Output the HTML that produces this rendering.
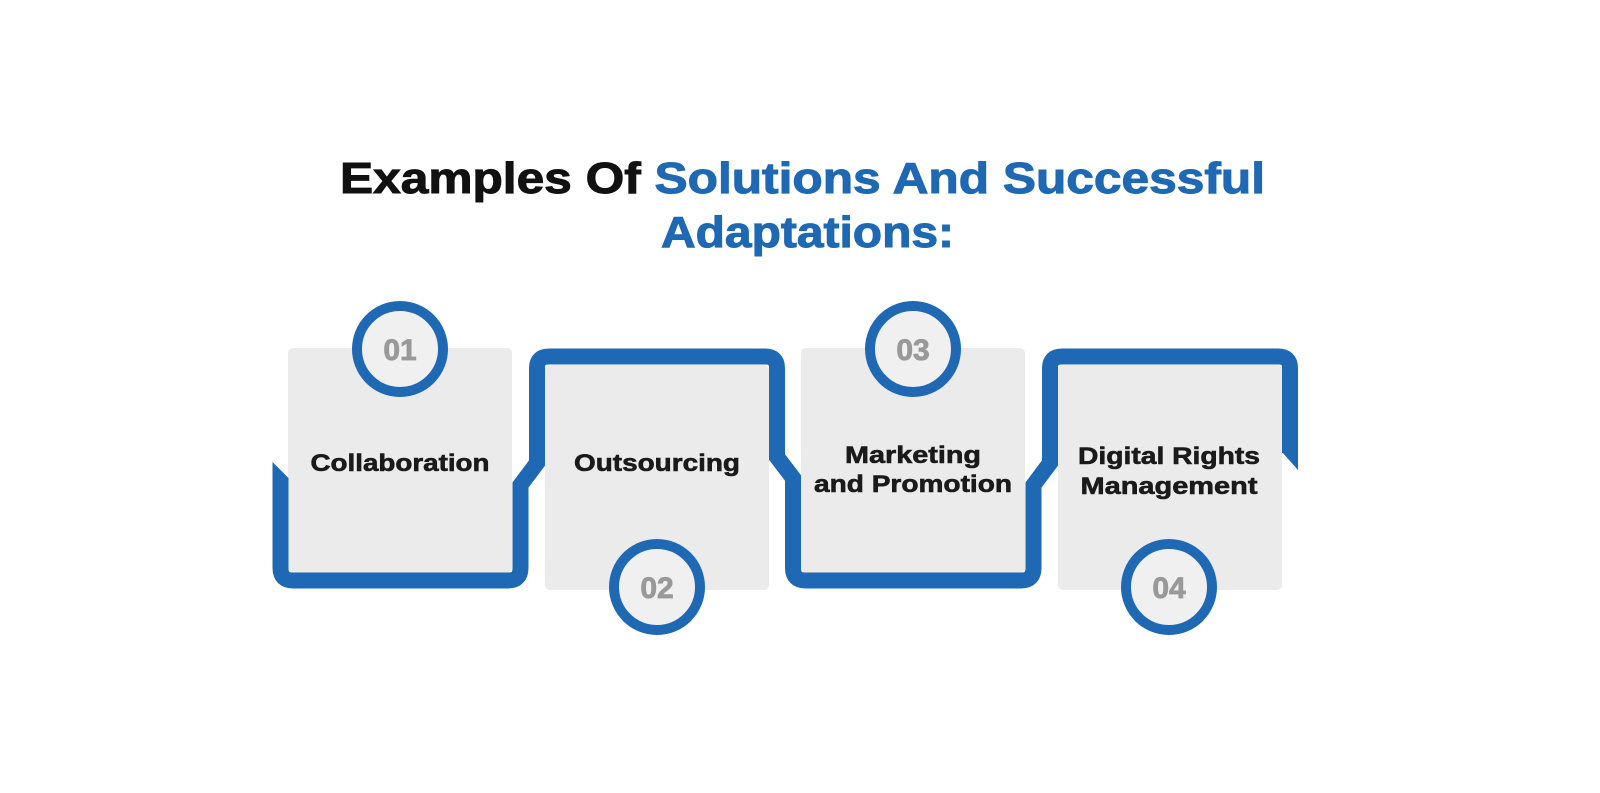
<!DOCTYPE html>
<html><head><meta charset="utf-8"><style>
html,body{margin:0;padding:0;background:#fff;}
svg{display:block;}
</style></head><body>
<svg width="1600" height="793" viewBox="0 0 1600 793" xmlns="http://www.w3.org/2000/svg">
<rect width="1600" height="793" fill="#fff"/>
<!-- title -->
<text x="340" y="193" font-family="Liberation Sans, sans-serif" font-weight="bold" font-size="44" textLength="925" lengthAdjust="spacingAndGlyphs" stroke-width="1"><tspan fill="#111" stroke="#111">Examples Of </tspan><tspan fill="#1f68b3" stroke="#1f68b3">Solutions And Successful</tspan></text>
<text x="661" y="247" font-family="Liberation Sans, sans-serif" font-weight="bold" font-size="44" fill="#1f68b3" stroke="#1f68b3" stroke-width="1" textLength="293" lengthAdjust="spacingAndGlyphs">Adaptations:</text>

<!-- gray boxes -->
<g fill="#ebebeb">
<rect x="288" y="348" width="224" height="225" rx="5"/>
<rect x="545" y="365" width="224" height="225" rx="5"/>
<rect x="801" y="348" width="224" height="225" rx="5"/>
<rect x="1058" y="365" width="224" height="225" rx="5"/>
</g>

<!-- blue snake -->
<path d="M280.5 478 L280.5 568 Q280.5 580.5 293 580.5 L508 580.5 Q520.5 580.5 520.5 568 L520.5 485 L537 463 L537 368 Q537 356.5 549 356.5 L765 356.5 Q777 356.5 777 368 L777 457 L793 478 L793 568 Q793 580.5 805.5 580.5 L1021 580.5 Q1033.5 580.5 1033.5 568 L1033.5 485 L1050 463 L1050 368 Q1050 356.5 1062 356.5 L1278 356.5 Q1290 356.5 1290 368 L1290 453"
 fill="none" stroke="#1f68b3" stroke-width="16" stroke-linejoin="miter"/>
<!-- diagonal end cuts -->
<polygon points="272.5,462 288.5,478 272.5,478" fill="#1f68b3"/>
<polygon points="1282,452 1298,452 1298,470" fill="#1f68b3"/>

<!-- circles -->
<g fill="#f0f0f0" stroke="#1f68b3" stroke-width="10">
<circle cx="400" cy="349" r="43"/>
<circle cx="657" cy="587" r="43"/>
<circle cx="913" cy="349" r="43"/>
<circle cx="1169" cy="587" r="43"/>
</g>
<g font-family="Liberation Sans, sans-serif" font-weight="bold" font-size="30" fill="#999" stroke="#999" stroke-width="0.8" text-anchor="middle">
<text x="400" y="360">01</text>
<text x="657" y="598">02</text>
<text x="913" y="360">03</text>
<text x="1169" y="598">04</text>
</g>

<!-- labels -->
<g font-family="Liberation Sans, sans-serif" font-weight="bold" font-size="24" fill="#1a1a1a" stroke="#1a1a1a" stroke-width="0.6" text-anchor="middle">
<text x="400" y="471" textLength="179" lengthAdjust="spacingAndGlyphs">Collaboration</text>
<text x="657" y="471" textLength="166" lengthAdjust="spacingAndGlyphs">Outsourcing</text>
<text x="913" y="463" textLength="136" lengthAdjust="spacingAndGlyphs">Marketing</text>
<text x="913" y="492" textLength="198" lengthAdjust="spacingAndGlyphs">and Promotion</text>
<text x="1169" y="464" textLength="182" lengthAdjust="spacingAndGlyphs">Digital Rights</text>
<text x="1169" y="494" textLength="177" lengthAdjust="spacingAndGlyphs">Management</text>
</g>
</svg>
</body></html>
